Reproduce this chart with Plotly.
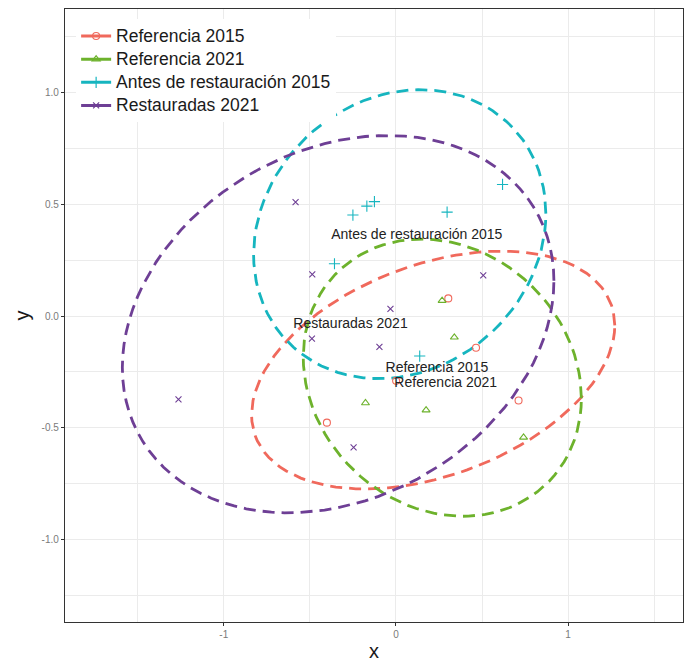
import numpy as np
import plotly.graph_objects as go

# Group names, in legend order
groups = ["Referencia 2015", "Referencia 2021", "Antes de restauración 2015", "Restauradas 2021"]

# Ordination scores per group
ref2015_x = [0.304, 0.465, 0.001, -0.401, 0.712]
ref2015_y = [0.079, -0.142, -0.290, -0.477, -0.378]

ref2021_x = [0.268, 0.339, -0.177, 0.175, 0.741]
ref2021_y = [0.069, -0.095, -0.389, -0.421, -0.543]

antes2015_x = [-0.250, -0.169, -0.125, 0.297, 0.619, -0.357, 0.138]
antes2015_y = [0.452, 0.492, 0.512, 0.465, 0.589, 0.234, -0.179]

rest2021_x = [-0.583, -0.486, 0.507, -0.032, -0.488, -0.096, -0.246, -1.263]
rest2021_y = [0.510, 0.187, 0.182, 0.032, -0.101, -0.138, -0.588, -0.373]

# Anchor points of the group name labels
label_x = [0.238, 0.289, 0.121, -0.264]
label_y = [-0.234, -0.300, 0.362, -0.039]

# Axis ticks
x_ticks = [-1, 0, 1]
x_tick_text = ["-1", "0", "1"]
y_ticks = [-1.0, -0.5, 0.0, 0.5, 1.0]
y_tick_text = ["-1.0", "-0.5", "0.0", "0.5", "1.0"]

colors = ["#F0695C", "#6DB22C", "#16B5BF", "#6E3F95"]
symbols = ["circle-open", "triangle-up-open", "cross-thin-open", "x-thin-open"]
marker_sizes = [7, 7, 8, 6]

xs = [ref2015_x, ref2021_x, antes2015_x, rest2021_x]
ys = [ref2015_y, ref2021_y, antes2015_y, rest2021_y]


def cov_ellipse(x, y, conf=0.95, npoints=100):
    """Standard-deviation ellipse of a group at the given confidence."""
    X = np.column_stack([x, y])
    center = X.mean(axis=0)
    cov = np.cov(X, rowvar=False)          # n - 1 denominator
    scale = np.sqrt(-2.0 * np.log(1 - conf))  # sqrt of chi-square(2) quantile
    R = np.linalg.cholesky(cov).T
    theta = np.arange(npoints + 1) * 2 * np.pi / npoints
    circ = np.column_stack([np.cos(theta), np.sin(theta)])
    e = center + scale * (circ @ R)
    return e[:, 0], e[:, 1]


fig = go.Figure()

# Legend keys (names set larger than the row height font)
for g, c, s, ms in zip(groups, colors, symbols, marker_sizes):
    fig.add_trace(go.Scatter(
        x=[None], y=[None], mode="lines+markers",
        name='<span style="font-size:17.5px">' + g + "</span>",
        line=dict(color=c, width=3),
        marker=dict(symbol=s, size=ms, color=c, line=dict(width=1.2, color=c)),
    ))

# Confidence ellipses
for g, c, x, y in zip(groups, colors, xs, ys):
    ex, ey = cov_ellipse(x, y)
    fig.add_trace(go.Scatter(
        x=ex, y=ey, mode="lines", showlegend=False, hoverinfo="skip",
        line=dict(color=c, width=2.8, dash="12px,7px"),
    ))

# Sample points
for g, c, s, ms, x, y in zip(groups, colors, symbols, marker_sizes, xs, ys):
    fig.add_trace(go.Scatter(
        x=x, y=y, mode="markers", name=g, showlegend=False,
        marker=dict(symbol=s, size=ms, color=c, line=dict(width=1.1, color=c)),
    ))

# Group labels
fig.add_trace(go.Scatter(
    x=label_x, y=label_y, mode="text", text=groups, showlegend=False,
    textfont=dict(family="Liberation Sans, Arial, sans-serif", size=14, color="#222222"),
    textposition="middle center", hoverinfo="skip",
))

grid = "#EBEBEB"
fig.update_layout(
    width=688, height=662,
    margin=dict(l=65, r=4, t=9, b=33),
    paper_bgcolor="white", plot_bgcolor="white",
    font=dict(family="Liberation Sans, Arial, sans-serif"),
    showlegend=True,
    legend=dict(
        x=0.018, y=0.983, xanchor="left", yanchor="top",
        bgcolor="white", borderwidth=0,
        font=dict(size=15.5, color="#1a1a1a"),
    ),
    xaxis=dict(
        range=[-1.922, 1.667], tickvals=x_ticks, ticktext=x_tick_text,
        showgrid=True, gridcolor=grid, gridwidth=1.1,
        minor=dict(dtick=0.5, tick0=0.5, showgrid=True, gridcolor=grid, gridwidth=0.6),
        zeroline=False, showline=True, linecolor="#333333", linewidth=1.3, mirror=True,
        ticks="outside", ticklen=3, tickcolor="#333333",
        tickfont=dict(size=10, color="#7a7a7a"),
        title=dict(text="x", font=dict(size=20, color="#1a1a1a"), standoff=4),
    ),
    yaxis=dict(
        range=[-1.369, 1.374], tickvals=y_ticks, ticktext=y_tick_text,
        showgrid=True, gridcolor=grid, gridwidth=1.1,
        minor=dict(dtick=0.25, tick0=0.25, showgrid=True, gridcolor=grid, gridwidth=0.6),
        zeroline=False, showline=True, linecolor="#333333", linewidth=1.3, mirror=True,
        ticks="outside", ticklen=3, tickcolor="#333333",
        tickfont=dict(size=10, color="#7a7a7a"),
        title=dict(text="y", font=dict(size=20, color="#1a1a1a"), standoff=6),
    ),
)

fig.write_html("out.html")
